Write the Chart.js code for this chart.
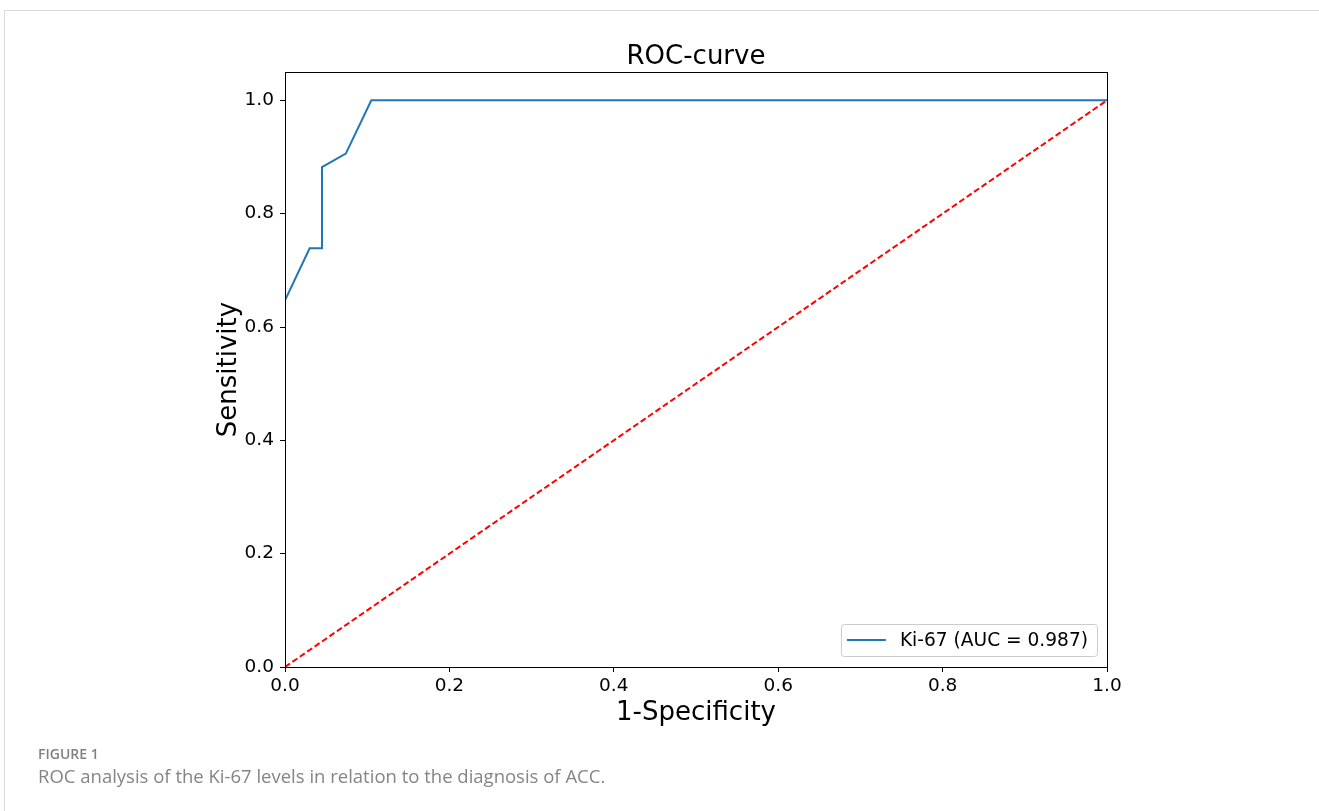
<!DOCTYPE html>
<html>
<head>
<meta charset="utf-8">
<script src="https://cdn.jsdelivr.net/npm/chart.js@4"></script>
<style>
body{margin:0;background:#fff;}
#pagina{position:relative;width:1319px;height:811px;overflow:hidden;}
#cornice{position:absolute;left:4px;top:10px;right:-2px;bottom:-2px;border-top:1px solid #d9d9d9;border-left:1px solid #d9d9d9;}
#titolo{position:absolute;left:285px;width:822px;top:42px;text-align:center;font:26px "DejaVu Sans";line-height:26px;color:#000;}
#fig{position:absolute;left:38px;top:744px;font:600 14px "Open Sans";color:#808080;}
#didascalia{position:absolute;left:38px;top:763px;font:18.5px "Open Sans";color:#858585;}
canvas{position:absolute;left:0;top:0;}
</style>
</head>
<body>
<div id="pagina">
<div id="cornice"></div>
<canvas id="graf" width="1319" height="811"></canvas>
<div id="titolo">ROC-curve</div>
<div id="fig">FIGURE 1</div>
<div id="didascalia">ROC analysis of the Ki-67 levels in relation to the diagnosis of ACC.</div>
</div>
<script>
// dati
var fpr=[0,0.030,0.045,0.045,0.074,0.105,1.0];
var tpr=[0.647,0.739,0.739,0.882,0.906,1.0,1.0];
var diagX=[0,1];
var diagY=[0,1];
var xTicks=[0,0.2,0.4,0.6,0.8,1.0];
var yTicks=[0,0.2,0.4,0.6,0.8,1.0];
var etichetta="Ki-67 (AUC = 0.987)";

function punti(xs,ys){
    var out=[];
    for(var i=0;i<xs.length;i++) out.push({x:xs[i],y:ys[i]});
    return out;
}

var cornicePlot={
    id:"cornicePlot",
    afterDraw:function(chart){
        var ctx=chart.ctx, a=chart.chartArea;
        ctx.save();
        ctx.strokeStyle="#000";
        ctx.lineWidth=1;
        ctx.strokeRect(Math.round(a.left)+0.5,Math.round(a.top)+0.5,Math.round(a.right-a.left),Math.round(a.bottom-a.top));
        // legenda
        ctx.font="18.6px 'DejaVu Sans'";
        var tw=ctx.measureText(etichetta).width;
        var w=6+39+14+tw+9, h=32;
        var x1=a.right-10, y1=a.bottom-11;
        var x0=x1-w, y0=y1-h;
        ctx.beginPath();
        ctx.roundRect(x0+0.5,y0+0.5,w,h,3);
        ctx.fillStyle="rgba(255,255,255,0.8)";
        ctx.fill();
        ctx.strokeStyle="#cccccc";
        ctx.stroke();
        ctx.beginPath();
        ctx.moveTo(x0+6,y0+h/2);
        ctx.lineTo(x0+45,y0+h/2);
        ctx.strokeStyle="#1f77b4";
        ctx.lineWidth=2;
        ctx.stroke();
        ctx.fillStyle="#000";
        ctx.textBaseline="middle";
        ctx.textAlign="left";
        ctx.fillText(etichetta,x0+59,y0+h/2+1);
        ctx.restore();
    }
};

var fontTick={family:"DejaVu Sans",size:18.5};
var fontAsse={family:"DejaVu Sans",size:26};

var grafico=new Chart("graf",{
    type:"scatter",
    data:{
        datasets:[{
            label:etichetta,
            data:punti(fpr,tpr),
            showLine:true,
            borderColor:"#1f77b4",
            borderWidth:2,
            pointRadius:0,
            tension:0
        },{
            label:"diag",
            data:punti(diagX,diagY),
            showLine:true,
            borderColor:"#ff0000",
            borderWidth:2,
            borderDash:[6,3],
            pointRadius:0
        }]
    },
    options:{
        responsive:false,
        animation:false,
        layout:{padding:{left:213.6,top:72,right:212,bottom:82.6}},
        plugins:{legend:{display:false},title:{display:false},tooltip:{enabled:false}},
        scales:{
            x:{
                type:"linear",min:0,max:1,
                afterBuildTicks:function(s){s.ticks=xTicks.map(function(v){return {value:v};});},
                afterFit:function(s){s.height=61.4;},
                ticks:{font:fontTick,color:"#000",padding:3,maxRotation:0,callback:function(v){return v.toFixed(1);}},
                grid:{drawOnChartArea:false,drawTicks:true,tickLength:5,tickColor:"#000"},
                border:{color:"#000",width:1},
                title:{display:true,text:"1-Specificity",font:fontAsse,color:"#000",padding:0}
            },
            y:{
                type:"linear",min:0,max:1.05,
                afterBuildTicks:function(s){s.ticks=yTicks.map(function(v){return {value:v};});},
                afterFit:function(s){s.width=71.4;},
                ticks:{font:fontTick,color:"#000",padding:6,callback:function(v){return v.toFixed(1);}},
                grid:{drawOnChartArea:false,drawTicks:true,tickLength:5,tickColor:"#000"},
                border:{color:"#000",width:1},
                title:{display:true,text:"Sensitivity",font:fontAsse,color:"#000",padding:0}
            }
        }
    },
    plugins:[cornicePlot]
});
</script>
</body>
</html>
